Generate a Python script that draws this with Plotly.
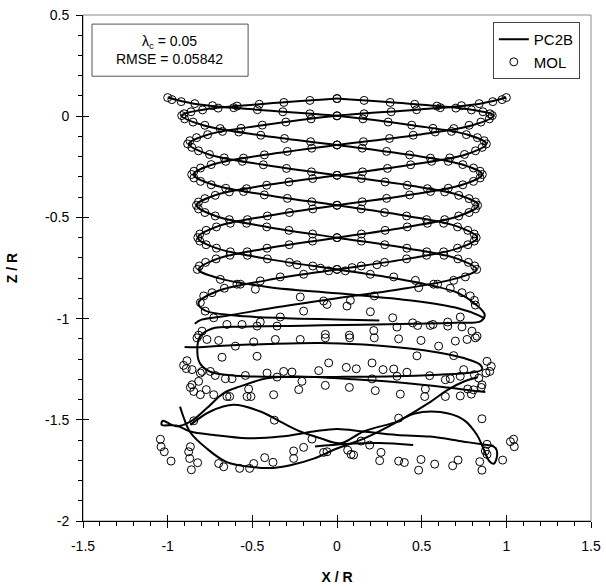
import plotly.graph_objects as go

# ---------------- PC2B vortex filaments (x/R, z/R) ----------------
a_x = [-1.0,-0.845,-0.47,0.0,0.445,0.765,0.882,0.76,0.435,0.0,-0.42,-0.722,-0.83,-0.717,-0.413,0.0,0.412,0.713,0.825,0.71,0.41,0.0,-0.4,-0.68,-0.8,-0.84]
a_z = [0.092,0.062,0.032,0.002,-0.045,-0.09,-0.137,-0.189,-0.24,-0.292,-0.341,-0.391,-0.44,-0.493,-0.547,-0.6,-0.652,-0.705,-0.757,-0.8,-0.85,-0.9,-0.95,-0.99,-1.005,-1.025]
b_x = [1.0,0.845,0.47,0.0,-0.44,-0.758,-0.875,-0.755,-0.432,0.0,0.42,0.725,0.835,0.72,0.415,0.0,-0.41,-0.708,-0.818,-0.7,-0.4,0.0,0.45,0.72,0.84,0.87]
b_z = [0.092,0.062,0.032,0.002,-0.045,-0.09,-0.137,-0.189,-0.24,-0.292,-0.341,-0.391,-0.44,-0.493,-0.547,-0.6,-0.652,-0.705,-0.757,-0.8,-0.845,-0.875,-0.912,-0.95,-0.985,-1.0]
c_x = [0.0,-0.46,-0.8,-0.917,-0.79,-0.455,0.0,0.43,0.74,0.858,0.74,0.425,0.0,-0.413,-0.713,-0.822,-0.712,-0.41,0.0,
       0.26,0.55,0.72,0.82,0.872,0.85,0.7,0.45,0.15,-0.2,-0.55,-0.74,-0.81,-0.825,-0.81,-0.75,-0.6,-0.3,0.0,0.35,0.6,
       0.78,0.856,0.846,0.748,0.551,0.354,0.157,-0.1,-0.4,-0.7,-0.84,-0.9]
c_z = [0.087,0.059,0.031,0.003,-0.045,-0.094,-0.142,-0.191,-0.239,-0.288,-0.339,-0.389,-0.44,-0.493,-0.547,-0.6,-0.652,-0.705,-0.757,
       -0.79,-0.835,-0.875,-0.93,-0.98,-1.012,-1.02,-1.025,-1.03,-1.035,-1.04,-1.05,-1.09,-1.16,-1.22,-1.262,-1.282,-1.288,-1.288,-1.285,-1.277,
       -1.268,-1.252,-1.228,-1.195,-1.161,-1.141,-1.128,-1.12,-1.125,-1.135,-1.142,-1.14]
d_x = [0.0,0.465,0.805,0.927,0.8,0.46,0.0,-0.425,-0.735,-0.848,-0.73,-0.42,0.0,0.415,0.717,0.828,0.717,0.414,0.0,-0.41,-0.708,-0.818,-0.78,-0.6,-0.3,0.0,0.25]
d_z = [0.087,0.059,0.031,0.003,-0.045,-0.094,-0.142,-0.191,-0.239,-0.288,-0.339,-0.389,-0.44,-0.493,-0.547,-0.6,-0.652,-0.705,-0.757,-0.81,-0.865,-0.922,-0.96,-0.985,-0.998,-1.004,-1.01]
e_x = [0.876,0.65,0.4,0.1,-0.236,-0.413,-0.571,-0.669,-0.768,-0.866,-0.95,-1.03,-1.035,-0.95,-0.866,-0.728,-0.531,-0.335,-0.138,0.0,0.157,0.354,0.551,0.748,0.886,0.925]
e_z = [-1.363,-1.34,-1.318,-1.3,-1.286,-1.295,-1.335,-1.368,-1.442,-1.509,-1.532,-1.505,-1.525,-1.528,-1.558,-1.575,-1.591,-1.583,-1.558,-1.545,-1.558,-1.575,-1.583,-1.608,-1.624,-1.628]
f_x = [-0.927,-0.907,-0.868,-0.769,-0.651,-0.493,-0.375,-0.276,-0.138,0.0,0.158,0.355,0.552,0.651,0.75,0.83]
f_z = [-1.435,-1.485,-1.56,-1.642,-1.709,-1.734,-1.738,-1.725,-1.692,-1.642,-1.593,-1.51,-1.411,-1.353,-1.311,-1.29]
h_x = [-0.866,-0.748,-0.61,-0.453,-0.335,-0.217,-0.098,0.02,0.157,0.354,0.453,0.61,0.748,0.827,0.866,0.9,0.925,0.945,0.937,0.9]
h_z = [-1.525,-1.459,-1.426,-1.459,-1.509,-1.558,-1.591,-1.616,-1.558,-1.509,-1.47,-1.462,-1.5,-1.575,-1.645,-1.705,-1.717,-1.68,-1.64,-1.625]
g_x = [-0.13,0.05,0.25,0.45]
g_z = [-1.632,-1.62,-1.615,-1.625]

# ---------------- MOL points ----------------
mol_a_x = [-1.0,-0.975,-0.92,-0.84,-0.735,-0.61,-0.47,-0.32,-0.16,
           0.0,0.153,0.302,0.441,0.567,0.676,0.764,0.829,0.869,
           0.882,0.857,0.818,0.753,0.666,0.559,0.435,0.298,0.151,
           0.0,-0.144,-0.284,-0.415,-0.534,-0.636,-0.719,-0.78,-0.818,
           -0.83,-0.818,-0.78,-0.719,-0.636,-0.534,-0.415,-0.284,-0.144,
           0.0,0.144,0.282,0.413,0.53,0.632,0.714,0.776,0.813,0.825]
mol_a_z = [0.092,0.082,0.072,0.062,0.052,0.042,0.032,0.022,0.012,
           0.002,-0.013,-0.029,-0.044,-0.06,-0.075,-0.091,-0.106,-0.121,
           -0.137,-0.154,-0.171,-0.189,-0.206,-0.223,-0.24,-0.258,-0.275,
           -0.292,-0.308,-0.325,-0.341,-0.358,-0.374,-0.391,-0.407,-0.424,
           -0.44,-0.458,-0.476,-0.493,-0.511,-0.529,-0.547,-0.564,-0.582,
           -0.6,-0.617,-0.635,-0.652,-0.67,-0.687,-0.705,-0.722,-0.74,-0.757]
mol_b_x = [1.0,0.975,0.92,0.84,0.735,0.61,0.47,0.32,0.16,
           0.0,-0.153,-0.302,-0.441,-0.567,-0.676,-0.764,-0.829,-0.869,
           -0.882,-0.857,-0.818,-0.753,-0.666,-0.559,-0.435,-0.298,-0.151,
           0.0,0.144,0.284,0.415,0.534,0.636,0.719,0.78,0.818,
           0.83,0.818,0.78,0.719,0.636,0.534,0.415,0.284,0.144,
           0.0,-0.144,-0.282,-0.413,-0.53,-0.632,-0.714,-0.776,-0.813,-0.825]
mol_b_z = mol_a_z
mol_c_x = [0.0,-0.16,-0.314,-0.459,-0.59,-0.702,-0.794,-0.862,-0.903,
           -0.917,-0.9,-0.85,-0.78,-0.69,-0.58,-0.45,-0.31,-0.156,
           0.0,0.149,0.293,0.429,0.552,0.657,0.743,0.806,0.845,
           0.858,0.845,0.806,0.743,0.657,0.552,0.429,0.293,0.149,
           0.0,-0.143,-0.281,-0.411,-0.529,-0.63,-0.712,-0.773,-0.81,
           -0.822,-0.81,-0.773,-0.712,-0.63,-0.529,-0.411,-0.281,-0.143,0.0]
mol_c_z = [0.087,0.078,0.068,0.059,0.05,0.04,0.031,0.022,0.012,
           0.003,-0.013,-0.029,-0.045,-0.061,-0.078,-0.094,-0.11,-0.126,
           -0.142,-0.158,-0.174,-0.191,-0.207,-0.223,-0.239,-0.256,-0.272,
           -0.288,-0.305,-0.322,-0.339,-0.356,-0.372,-0.389,-0.406,-0.423,
           -0.44,-0.458,-0.476,-0.493,-0.511,-0.529,-0.547,-0.564,-0.582,
           -0.6,-0.617,-0.635,-0.652,-0.67,-0.687,-0.705,-0.722,-0.74,-0.757]
mol_d_x = [0.0,0.16,0.314,0.459,0.59,0.702,0.794,0.862,0.903,
           0.917,0.9,0.85,0.78,0.69,0.58,0.45,0.31,0.156,
           0.0,-0.149,-0.293,-0.429,-0.552,-0.657,-0.743,-0.806,-0.845,
           -0.858,-0.845,-0.806,-0.743,-0.657,-0.552,-0.429,-0.293,-0.149,
           0.0,0.143,0.281,0.411,0.529,0.63,0.712,0.773,0.81,
           0.822,0.81,0.773,0.712,0.63,0.529,0.411,0.281,0.143,0.0]
mol_d_z = mol_c_z

mol_low_x = [-0.689,-0.591,-0.571,-0.482,-0.453,-0.335,-0.236,-0.197,-0.098,-0.049,-0.665,-0.807,-0.787,-0.738,
             -0.778,-0.728,-0.65,-0.561,-0.472,-0.453,-0.354,-0.335,-0.217,-0.197,-0.079,-0.059,-0.817,-0.827,
             -0.797,-0.768,-0.699,-0.6,-0.492,-0.364,-0.217,-0.069,-0.069,-0.679,-0.472,-0.886,-0.906,-0.89,
             -0.856,-0.807,-0.797,-0.748,-0.719,-0.659,-0.62,-0.541,-0.413,-0.354,-0.315,-0.266,-0.207,-0.108,
             -0.049,-0.856,-0.866,-0.817,-0.772,-0.846,-0.807,-0.728,-0.65,-0.634,-0.531,-0.522,-0.508,-0.374,
             -0.226,-0.069,-0.846,-0.37,-1.043,-1.039,-1.02,-0.98,-0.866,-0.876,-0.87,-0.823,-0.86,-0.699,
             -0.669,-0.575,-0.516,-0.492,-0.427,-0.378,-0.256,-0.256,-0.197,-0.148,-0.079,-0.059,
             0.049,0.089,0.236,0.197,0.335,0.463,0.482,0.571,0.594,0.669,0.689,0.738,0.787,0.811,0.817,0.758,
             0.059,0.079,0.197,0.22,0.329,0.354,0.447,0.476,0.551,0.567,0.654,0.654,0.738,0.728,0.768,0.797,
             0.817,0.827,0.073,0.075,0.217,0.22,0.364,0.496,0.6,0.699,0.472,0.689,0.886,0.911,0.902,0.88,
             0.748,0.811,0.837,0.856,0.852,0.807,0.772,0.728,0.669,0.64,0.547,0.522,0.518,0.413,0.354,0.335,
             0.272,0.207,0.207,0.226,0.374,0.64,0.728,0.793,0.055,0.114,0.073,0.856,0.364,0.142,0.193,0.26,
             0.252,0.364,0.398,0.496,0.482,0.577,0.683,0.715,0.856,0.886,0.876,0.886,0.843,1.024,1.043,1.047,
             0.978,0.083,0.098,0.063]
mol_low_z = [-0.806,-0.83,-0.83,-0.855,-0.814,-0.794,-0.734,-0.781,-0.751,-0.764,-0.85,-0.921,-0.888,-0.872,
             -0.963,-0.996,-1.029,-1.029,-1.037,-1.017,-1.037,-0.992,-0.893,-0.963,-0.913,-0.93,-1.082,-1.095,
             -1.062,-1.103,-1.108,-1.136,-1.115,-1.103,-1.103,-1.078,-1.095,-1.191,-1.186,-1.208,-1.231,-1.247,
             -1.252,-1.269,-1.261,-1.261,-1.281,-1.297,-1.297,-1.281,-1.269,-1.289,-1.261,-1.264,-1.31,-1.257,
             -1.219,-1.327,-1.34,-1.31,-1.351,-1.36,-1.376,-1.376,-1.385,-1.385,-1.385,-1.348,-1.385,-1.376,
             -1.351,-1.33,-1.505,-1.502,-1.596,-1.633,-1.658,-1.704,-1.633,-1.658,-1.691,-1.712,-1.747,-1.716,
             -1.732,-1.74,-1.74,-1.716,-1.687,-1.71,-1.654,-1.691,-1.636,-1.595,-1.661,-1.658,
             -0.764,-0.748,-0.734,-0.781,-0.794,-0.811,-0.847,-0.83,-0.83,-0.85,-0.811,-0.872,-0.888,-0.91,-0.933,-0.794,
             -0.938,-0.91,-0.966,-0.888,-0.996,-1.042,-1.021,-1.034,-1.034,-1.029,-1.017,-1.037,-1.041,-0.992,-1.103,-1.062,
             -1.095,-1.087,-1.082,-1.095,-1.059,-1.095,-1.1,-1.108,-1.136,-1.111,-1.184,-1.183,-1.211,-1.236,-1.261,-1.269,
             -1.252,-1.277,-1.294,-1.327,-1.34,-1.352,-1.348,-1.285,-1.297,-1.302,-1.282,-1.348,-1.385,-1.265,-1.285,-1.249,
             -1.252,-1.219,-1.298,-1.356,-1.373,-1.385,-1.382,-1.373,-1.241,-1.248,-1.34,-1.495,-1.492,-1.605,-1.625,-1.661,
             -1.702,-1.704,-1.711,-1.696,-1.749,-1.719,-1.727,-1.699,-1.749,-1.621,-1.654,-1.671,-1.707,-1.608,-1.596,-1.633,
             -1.699,-1.671,-1.674,-1.65]

x_ticks = [-1.5, -1.0, -0.5, 0.0, 0.5, 1.0, 1.5]
x_ticktext = ["-1.5", "-1", "-0.5", "0", "0.5", "1", "1.5"]
z_ticks = [-2.0, -1.5, -1.0, -0.5, 0.0, 0.5]
z_ticktext = ["-2", "-1.5", "-1", "-0.5", "0", "0.5"]

segs_x = [a_x, b_x, c_x, d_x, e_x, f_x, h_x, g_x]
segs_z = [a_z, b_z, c_z, d_z, e_z, f_z, h_z, g_z]
line_x, line_z = [], []
for sx, sz in zip(segs_x, segs_z):
    line_x += sx + [None]
    line_z += sz + [None]
mol_x = mol_a_x + mol_b_x + mol_c_x + mol_d_x + mol_low_x
mol_z = mol_a_z + mol_b_z + mol_c_z + mol_d_z + mol_low_z

FONT = "Liberation Sans, Arial, sans-serif"
fig = go.Figure()
fig.add_trace(go.Scatter(x=line_x, y=line_z, mode="lines", name="PC2B",
                         line=dict(color="black", width=2, shape="spline", smoothing=1.0),
                         connectgaps=False))
fig.add_trace(go.Scatter(x=mol_x, y=mol_z, mode="markers", name="MOL",
                         marker=dict(symbol="circle-open", size=8, color="black",
                                     line=dict(width=1, color="black"))))
fig.add_trace(go.Scatter(x=[None], y=[None], xaxis="x2", yaxis="y2", showlegend=False))

axis_font = dict(family=FONT, size=14, color="black")
fig.update_layout(
    width=606, height=588,
    margin=dict(l=83, r=15, t=15, b=67),
    plot_bgcolor="white", paper_bgcolor="white",
    font=axis_font,
    showlegend=True,
    legend=dict(x=0.978, y=0.986, xanchor="right", yanchor="top",
                bordercolor="#444", borderwidth=1, bgcolor="white",
                font=dict(family=FONT, size=15, color="black"),
                itemwidth=30, tracegroupgap=0),
    xaxis=dict(range=[-1.5, 1.5], tickvals=x_ticks, ticktext=x_ticktext,
               showgrid=False, zeroline=False, automargin=False,
               showline=True, linecolor="black", linewidth=1,
               ticks="outside", ticklen=6, tickcolor="black", ticklabelstandoff=6,
               minor=dict(dtick=0.1, tick0=-1.5, ticks="outside", ticklen=4, tickcolor="black"),
               title=dict(text="<b>X / R</b>", standoff=19, font=dict(family=FONT, size=14)),
               tickfont=axis_font),
    yaxis=dict(range=[-2, 0.5], tickvals=z_ticks, ticktext=z_ticktext,
               showgrid=False, zeroline=False, automargin=False,
               showline=True, linecolor="black", linewidth=1,
               ticks="outside", ticklen=6, tickcolor="black", ticklabelstandoff=4,
               minor=dict(dtick=0.1, tick0=-2, ticks="outside", ticklen=4, tickcolor="black"),
               title=dict(text="<b>Z / R</b>", standoff=24, font=dict(family=FONT, size=14)),
               tickfont=axis_font),
    xaxis2=dict(range=[-1.5, 1.5], tickvals=x_ticks, overlaying="x", side="bottom",
                showgrid=False, zeroline=False, showticklabels=False, ticks="inside",
                ticklen=6, tickcolor="black", anchor="y", automargin=False),
    yaxis2=dict(range=[-2, 0.5], tickvals=z_ticks, overlaying="y", side="left",
                showgrid=False, zeroline=False, showticklabels=False, ticks="inside",
                ticklen=6, tickcolor="black", anchor="x", automargin=False),
)

fig.add_shape(type="rect", xref="paper", yref="paper", x0=0, x1=1, y0=0, y1=1,
              line=dict(color="#8a8a8a", width=1), layer="below")
fig.add_shape(type="rect", xref="paper", yref="paper", x0=0.0177, x1=0.325, y0=0.879, y1=0.982,
              line=dict(color="#555", width=1), fillcolor="white", layer="above")
fig.add_annotation(xref="paper", yref="paper", x=0.171, y=0.9305, xanchor="center", yanchor="middle",
                   showarrow=False, text="λ<sub>c</sub> = 0.05<br>RMSE = 0.05842", align="center",
                   font=dict(family=FONT, size=14, color="black"))

fig.write_html("out.html")
